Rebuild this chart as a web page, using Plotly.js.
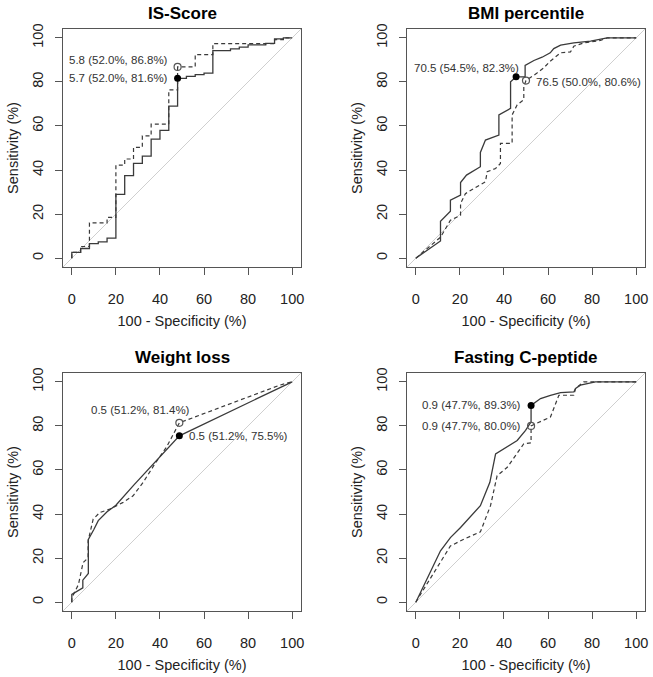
<!DOCTYPE html>
<html>
<head>
<meta charset="utf-8">
<script src="https://cdn.plot.ly/plotly-3.0.1.min.js"></script>
<style>html,body{margin:0;padding:0;background:#fff;}#chart{width:653px;height:677px;}</style>
</head>
<body>
<div id="chart"></div>
<script>
// ---------- DATA (x = 100 - Specificity %, y = Sensitivity %) ----------
const panelTitles = ["IS-Score", "BMI percentile", "Weight loss", "Fasting C-peptide"];
const tickVals = [0, 20, 40, 60, 80, 100];

// IS-Score
const isSolidX = [0,0,4,4,8,8,12,12,16,16,20,20,24,24,28,28,32,32,36,36,40,40,44,44,48,48,52,52,56,56,60,60,64,64,72,72,76,76,80,80,88,88,92,92,96,96,100];
const isSolidY = [0,2.6,2.6,4.4,4.4,6.6,6.6,7.4,7.4,9.1,9.1,29,29,37.5,37.5,43,43,46.3,46.3,54,54,58,58,69,69,81.6,81.6,82.5,82.5,83.3,83.3,84,84,94.2,94.2,95,95,95.8,95.8,96.8,96.8,97.5,97.5,99.5,99.5,100,100];
const isDashX = [0,0,4,4,8,8,16,16,20,20,24,24,28,28,32,32,36,36,44,44,48,48,56,56,64,64,92,92,96,96,100];
const isDashY = [0,2.6,2.6,5.3,5.3,16,16,18.5,18.5,42.2,42.2,45,45,50.3,50.3,55.5,55.5,60.8,60.8,76.4,76.4,86.8,86.8,92.4,92.4,97.4,97.4,99.2,99.2,100,100];

// BMI percentile
const bmiSolidX = [0,11.2,11.2,15.7,15.7,20.3,20.3,23,29.3,29.3,31.6,37.7,37.7,43,43,45.5,49.6,49.6,53.6,57.3,61,62.6,65.7,71.7,79.3,83,86.8,100];
const bmiSolidY = [0,7.8,16.7,21.3,26.3,28.6,34.3,37.7,41.5,48,53.6,55.9,65,68,80,82.3,82.3,87.5,89.7,91.2,93.2,95.1,96.7,97.7,98.5,99.2,100,100];
const bmiDashX = [0,11.2,15.7,20.3,20.3,22.5,26.3,31.6,32.4,36.2,38.4,38.4,43.7,43.7,46,49,49,50,55,58,61,65.7,70.2,71.7,76.2,83.8,87,100];
const bmiDashY = [0,9.5,17.2,19.5,24.8,29.3,31.6,34.7,39.2,40.7,43,52.1,52.1,65,69.6,71.9,78,80.6,84,86.3,89.4,93.2,93.6,96.2,97.7,98.8,100,100];

// Weight loss
const wlSolidX = [0,0,5,5,7.5,7.5,10,12,16,20,28,38,48.8,100];
const wlSolidY = [0,3.5,6.5,10,13,28.5,33,37,41,44,53,64,75.5,100];
const wlDashX = [0,0,3,3.9,5.1,7.4,7.4,9.7,12.7,17.2,23.3,27.8,32.4,37.7,43,48.8,94.4,100];
const wlDashY = [0,2,8,11.9,17.9,20.2,27.8,37.7,40.7,42.2,45.3,48.3,54.4,62.8,70.4,81.4,98.5,100];

// Fasting C-peptide
const cpSolidX = [0,11.2,15.7,20.3,29.3,33.6,36.2,41.5,46,49.8,52.3,52.3,56.6,61.1,65.7,71.7,72.5,74.7,77.8,81.5,100];
const cpSolidY = [0,23.3,29.3,33.9,43.8,54.4,67.3,70.4,73.4,78,81.8,89.3,92.4,93.9,95.1,95.4,97,98.5,99.2,100,100];
const cpDashX = [0,2.1,15.7,21.8,29.3,33.9,36.9,41.5,49,52.3,52.3,61.1,64.9,71.7,72.5,76.2,100];
const cpDashY = [0,3.5,25.5,28.6,31.9,43.8,57.4,61.2,71.9,72.3,80,84,93.9,93.9,97,100,100];

// Optimal thresholds: [threshold, specificity %, sensitivity %]
const thrValue = [[5.7, 5.8], [70.5, 76.5], [0.5, 0.5], [0.9, 0.9]];   // [solid, dashed]
const thrSpec  = [[52.0, 52.0], [54.5, 50.0], [51.2, 51.2], [47.7, 47.7]];
const thrSens  = [[81.6, 86.8], [82.3, 80.6], [75.5, 81.4], [89.3, 80.0]];

// ---------- STYLE / LAYOUT ----------
const solidXs = [isSolidX, bmiSolidX, wlSolidX, cpSolidX];
const solidYs = [isSolidY, bmiSolidY, wlSolidY, cpSolidY];
const dashXs = [isDashX, bmiDashX, wlDashX, cpDashX];
const dashYs = [isDashY, bmiDashY, wlDashY, cpDashY];

// label placement relative to each point (pixels): [anchor, xshift, yshift] for [solid, dashed]
const labelPlace = [
  [["right", -10, 0], ["right", -10, 7]],
  [["right", 3, 8.5], ["left", 10, -1.5]],
  [["left", 10, 0], ["right", 11, 12.5]],
  [["right", -10, 0], ["right", -10, 0]]
];

const FONT = "Liberation Sans, Arial, Helvetica, sans-serif";
const W = 653, H = 677;
const M = {l: 63, r: 8, t: 29, b: 66};
const PW = W - M.l - M.r, PH = H - M.t - M.b;
const boxes = [ // pixel boxes [x0, x1, y0(top), y1(bottom)]
  [63, 301, 29, 267], [407, 645, 29, 267],
  [63, 301, 373, 611], [407, 645, 373, 611]
];
const lineCol = "#3a3a3a";

const data = [];
const layout = {
  width: W, height: H, margin: M,
  paper_bgcolor: "#fff", plot_bgcolor: "#fff",
  showlegend: false, font: {family: FONT, color: "#222", size: 14.5},
  annotations: [], shapes: []
};

for (let i = 0; i < 4; i++) {
  const sfx = i === 0 ? "" : String(i + 1);
  const xa = "x" + sfx, ya = "y" + sfx;
  const b = boxes[i];
  const dx = [(b[0] - M.l) / PW, (b[1] - M.l) / PW];
  const dy = [(H - M.b - b[3]) / PH, (H - M.b - b[2]) / PH];
  const common = {
    range: [-4, 104], tickvals: tickVals, ticktext: tickVals.map(String),
    ticks: "outside", ticklen: 7, tickwidth: 1, tickcolor: "#555",
    showline: true, mirror: true, linecolor: "#555", linewidth: 1,
    showgrid: false, zeroline: false, fixedrange: true,
    tickfont: {family: FONT, size: 14.5, color: "#222"}
  };
  layout["xaxis" + sfx] = Object.assign({}, common, {
    domain: dx, anchor: ya, ticklabelstandoff: 12,
    title: {text: "100 - Specificity (%)", font: {family: FONT, size: 14.5, color: "#222"}, standoff: 9}
  });
  layout["yaxis" + sfx] = Object.assign({}, common, {
    domain: dy, anchor: xa, tickangle: -90, ticklabelstandoff: 6,
    title: {text: "Sensitivity (%)", font: {family: FONT, size: 14.5, color: "#222"}, standoff: 8}
  });

  // reference diagonal
  data.push({x: [-4, 104], y: [-4, 104], xaxis: xa, yaxis: ya, mode: "lines",
    line: {color: "#cfcfcf", width: 1}, hoverinfo: "skip"});
  // curves
  data.push({x: dashXs[i], y: dashYs[i], xaxis: xa, yaxis: ya, mode: "lines",
    line: {color: lineCol, width: 1.2, dash: "4px,3px"}});
  data.push({x: solidXs[i], y: solidYs[i], xaxis: xa, yaxis: ya, mode: "lines",
    line: {color: lineCol, width: 1.3}});

  // threshold points: solid (filled) and dashed (open)
  const px = thrSpec[i].map(s => 100 - s);
  data.push({x: [px[1]], y: [thrSens[i][1]], xaxis: xa, yaxis: ya, mode: "markers",
    marker: {symbol: "circle-open", size: 7, color: "#555", line: {width: 1.2, color: "#555"}}});
  data.push({x: [px[0]], y: [thrSens[i][0]], xaxis: xa, yaxis: ya, mode: "markers",
    marker: {symbol: "circle", size: 7, color: "#000"}});

  for (let k = 0; k < 2; k++) {
    const pl = labelPlace[i][k];
    layout.annotations.push({
      xref: xa, yref: ya, x: px[k], y: thrSens[i][k],
      text: thrValue[i][k].toFixed(1) + " (" + thrSpec[i][k].toFixed(1) + "%, " + thrSens[i][k].toFixed(1) + "%)",
      showarrow: false, xanchor: pl[0], yanchor: "middle", xshift: pl[1], yshift: pl[2],
      font: {family: FONT, size: 11.5, color: "#333"}, borderpad: 0, borderwidth: 0
    });
  }

  // panel title
  layout.annotations.push({
    xref: "paper", yref: "paper",
    x: ((b[0] + b[1]) / 2 - M.l) / PW, y: (H - M.b - (b[2] - 16)) / PH,
    text: "<b>" + panelTitles[i] + "</b>", showarrow: false, xanchor: "center", yanchor: "middle",
    font: {family: FONT, size: 17, color: "#000"}
  });
}

Plotly.newPlot("chart", data, layout, {displayModeBar: false, staticPlot: true});
</script>
</body>
</html>
